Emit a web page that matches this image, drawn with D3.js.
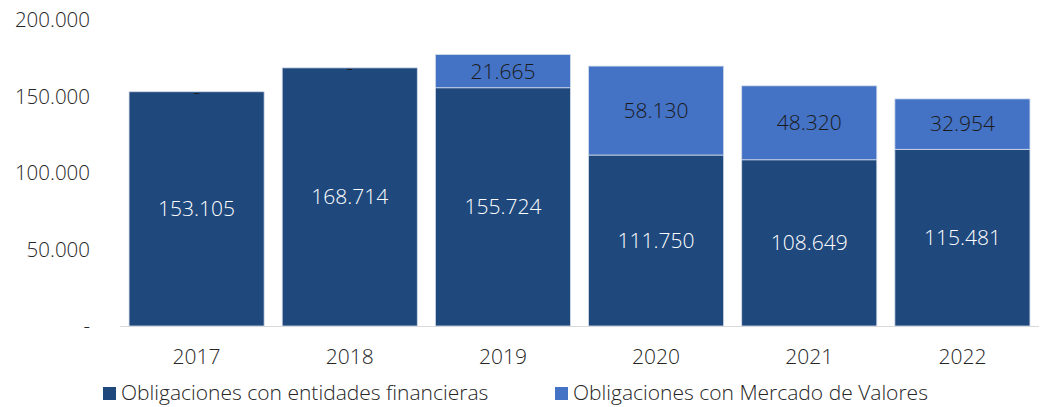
<!DOCTYPE html>
<html>
<head>
<meta charset="utf-8">
<script src="https://cdn.jsdelivr.net/npm/d3@7"></script>
<style>
  body { margin: 0; background: #fff; }
  text { font-family: "Open Sans", "Lato", sans-serif; font-weight: 300; }
</style>
</head>
<body>
<div id="chart"></div>
<script>
// Chart data
const years = ["2017", "2018", "2019", "2020", "2021", "2022"];
const entidades = [153105, 168714, 155724, 111750, 108649, 115481];
const mercado = [0, 0, 21665, 58130, 48320, 32954];
const seriesNames = ["Obligaciones con entidades financieras", "Obligaciones con Mercado de Valores"];
const yTicks = [0, 50000, 100000, 150000, 200000];

const width = 1040, height = 407;
const colors = ["#1f497d", "#4472c4"];

const svg = d3.select("#chart")
    .append("svg")
    .attr("width", width)
    .attr("height", height);

const x = d3.scaleBand()
    .domain(years)
    .range([120, 1039])
    .paddingInner(0.118)
    .paddingOuter(0.059);

const y = d3.scaleLinear()
    .domain([0, 200000])
    .range([326, 20]);

// number format with dot as thousands separator
const fmt = v => v === 0 ? "-" : d3.format(",")(v).replace(/,/g, ".");

// Stack the two series
const rows = years.map((yr, i) => ({ year: yr, a: entidades[i], b: mercado[i] }));
const stacked = d3.stack().keys(["a", "b"])(rows);

// Y axis labels (no line)
svg.append("g")
    .selectAll("text")
    .data(yTicks)
    .join("text")
    .attr("x", 90)
    .attr("y", d => y(d))
    .attr("dy", "0.35em")
    .attr("text-anchor", "end")
    .attr("font-size", "20.5px")
    .attr("fill", "#262626")
    .text(d => fmt(d));

// Bars
stacked.forEach((layer, k) => {
    svg.append("g")
        .selectAll("rect")
        .data(layer)
        .join("rect")
        .attr("x", d => x(d.data.year))
        .attr("y", d => y(d[1]))
        .attr("width", x.bandwidth())
        .attr("height", d => y(d[0]) - y(d[1]))
        .attr("fill", colors[k])
        .attr("stroke", "#d3dbea")
        .attr("stroke-width", 0.8);
});

// Baseline
svg.append("line")
    .attr("x1", 120)
    .attr("x2", 1039)
    .attr("y1", y(0) + 0.5)
    .attr("y2", y(0) + 0.5)
    .attr("stroke", "#d9d9d9")
    .attr("stroke-width", 1);

// Data labels
stacked.forEach((layer, k) => {
    svg.append("g")
        .selectAll("text")
        .data(layer)
        .join("text")
        .attr("x", d => x(d.data.year) + x.bandwidth() / 2)
        .attr("y", d => (y(d[0]) + y(d[1])) / 2)
        .attr("dy", "0.35em")
        .attr("text-anchor", "middle")
        .attr("font-size", "21px")
        .attr("font-weight", d => d[1] - d[0] === 0 ? 600 : 300)
        .attr("fill", k === 0 ? "#ffffff" : "#1a1a1a")
        .text(d => fmt(d[1] - d[0]));
});

// X axis labels
svg.append("g")
    .selectAll("text")
    .data(years)
    .join("text")
    .attr("x", d => x(d) + x.bandwidth() / 2)
    .attr("y", 357)
    .attr("dy", "0.35em")
    .attr("text-anchor", "middle")
    .attr("font-size", "21px")
    .attr("fill", "#262626")
    .text(d => d);

// Legend
const legendX = [103, 555];
const legend = svg.append("g")
    .selectAll("g")
    .data(seriesNames)
    .join("g")
    .attr("transform", (d, i) => `translate(${legendX[i]},393)`);

legend.append("rect")
    .attr("x", 0)
    .attr("y", -6)
    .attr("width", 13)
    .attr("height", 13)
    .attr("fill", (d, i) => colors[i]);

legend.append("text")
    .attr("x", 18)
    .attr("y", 0)
    .attr("dy", "0.35em")
    .attr("font-size", "21px")
    .attr("fill", "#262626")
    .text(d => d);
</script>
</body>
</html>
